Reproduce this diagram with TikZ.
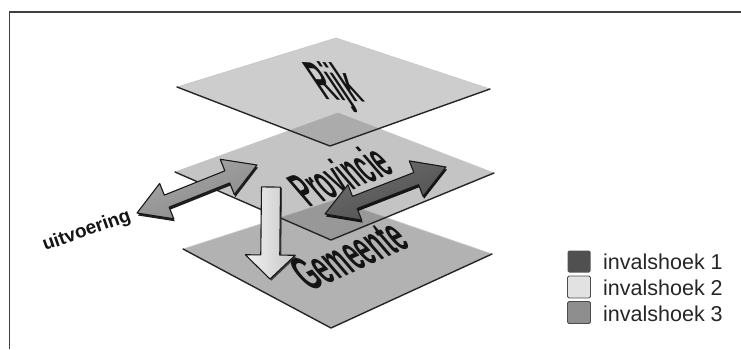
\documentclass[tikz,border=0pt]{standalone}
\usepackage{fontspec}
\setmainfont{Liberation Sans}
\usetikzlibrary{calc}

\definecolor{framegray}{HTML}{404040}
\definecolor{gemfill}{HTML}{B2B2B2}
\definecolor{provtint}{HTML}{787878}
\definecolor{rijktint}{HTML}{8C8C8C}
\definecolor{midarrow}{HTML}{888888}
\definecolor{midarrowhi}{HTML}{A8A8A8}
\definecolor{darkarrow}{HTML}{4E4E4E}
\definecolor{darkarrowhi}{HTML}{6E6E6E}
\definecolor{lightarrow}{HTML}{F2F2F2}
\definecolor{lightarrowlo}{HTML}{C6C6C6}
\definecolor{keydark}{HTML}{505050}
\definecolor{keylight}{HTML}{E2E2E2}
\definecolor{keymid}{HTML}{8E8E8E}

% double block arrow between two named points:
% #1 start, #2 end, #3 head length, #4 head half width, #5 shaft half width, #6 path options
\newcommand\DblBlockArrow[6]{%
  \path[#6] (#1)
    -- ($(#1)!#3!(#2)!#4!90:(#2)$)
    -- ($(#1)!#3!(#2)!#5!90:(#2)$)
    -- ($(#2)!#3!(#1)!#5!-90:(#1)$)
    -- ($(#2)!#3!(#1)!#4!-90:(#1)$)
    -- (#2)
    -- ($(#2)!#3!(#1)!#4!90:(#1)$)
    -- ($(#2)!#3!(#1)!#5!90:(#1)$)
    -- ($(#1)!#3!(#2)!#5!-90:(#2)$)
    -- ($(#1)!#3!(#2)!#4!-90:(#2)$)
    -- cycle;}

% single block arrow from a flat end #1 to a tip #2
\newcommand\OneBlockArrow[6]{%
  \path[#6] ($(#1)!#5!90:(#2)$)
    -- ($(#2)!#3!(#1)!#5!-90:(#1)$)
    -- ($(#2)!#3!(#1)!#4!-90:(#1)$)
    -- (#2)
    -- ($(#2)!#3!(#1)!#4!90:(#1)$)
    -- ($(#2)!#3!(#1)!#5!90:(#1)$)
    -- ($(#1)!#5!-90:(#2)$)
    -- cycle;}

\tikzset{
  frameline/.style={draw=framegray, line width=1.5pt},
  platefront/.style={draw=black!85, line width=1.4pt, line join=round, line cap=round},
  plateback/.style={draw=black!22, line width=0.7pt, line join=round},
  platelabel/.style={inner sep=0pt, text=black!92,
    font=\bfseries\fontsize{52}{52}\selectfont},
  arrowrim/.style={draw=black!90, line width=1.1pt, line join=round},
  keybox/.style={minimum width=23pt, minimum height=22pt, inner sep=0pt,
    rounded corners=1.5pt},
  keytext/.style={anchor=base west, inner sep=0pt, text=black!85,
    font=\fontsize{21.5}{24}\selectfont},
}

\begin{document}
\begin{tikzpicture}[x=1pt, y=-1pt]
\path[use as bounding box] (0,0) rectangle (741,349);

% frame
\coordinate (fl) at (9.5,349);
\coordinate (fc) at (9.5,12);
\coordinate (fr) at (741,12);
\draw[frameline] (fl) -- (fc) -- (fr);

% corner points of the three layers
\coordinate (gL) at (183,249); \coordinate (gT) at (335,200);
\coordinate (gR) at (492,254); \coordinate (gB) at (331,328);
\coordinate (pL) at (175,172); \coordinate (pT) at (338,113);
\coordinate (pR) at (494,173); \coordinate (pB) at (331,240);
\coordinate (rL) at (177,87);  \coordinate (rT) at (336,38);
\coordinate (rR) at (490,89);  \coordinate (rB) at (330,146);

% Gemeente layer
\fill[gemfill] (gL) -- (gT) -- (gR) -- (gB) -- cycle;
\draw[plateback] (gL) -- (gT) -- (gR);
\draw[platefront] (gL) -- (gB) -- (gR);

% Provincie layer
\fill[provtint, fill opacity=0.44] (pL) -- (pT) -- (pR) -- (pB) -- cycle;
\draw[plateback] (pL) -- (pT) -- (pR);
\draw[platefront] (pL) -- (pB) -- (pR);

% Rijk layer
\fill[rijktint, fill opacity=0.43] (rL) -- (rT) -- (rR) -- (rB) -- cycle;
\draw[plateback] (rL) -- (rT) -- (rR);
\draw[platefront] (rL) -- (rB) -- (rR);

% layer names
\node[platelabel, rotate=-3, xslant=-0.75, xscale=0.42] (trijk) at (336,87) {Rijk};
\node[platelabel, rotate=22, xslant=-0.34, xscale=0.40] (tprov) at (340,175) {Provincie};

% arrow end points
\coordinate (ua) at (137,213);   \coordinate (ub) at (257,165);
\coordinate (uas) at (138,215.5); \coordinate (ubs) at (258,167.5);
\coordinate (da) at (325,214);   \coordinate (db) at (446,167);
\coordinate (das) at (326,216.5); \coordinate (dbs) at (447,169.5);
\coordinate (wt) at (271,187);   \coordinate (wp) at (270,279);
\coordinate (wts) at (272.5,188); \coordinate (wps) at (271.5,280.5);

% uitvoering arrow
\DblBlockArrow{uas}{ubs}{32pt}{19pt}{6.5pt}{fill=black!88}
\DblBlockArrow{ua}{ub}{32pt}{19pt}{6.5pt}{arrowrim, top color=midarrowhi, bottom color=midarrow, shading angle=22}

% downward arrow
\OneBlockArrow{wts}{wps}{24pt}{25pt}{9.5pt}{fill=black!75}
\OneBlockArrow{wt}{wp}{24pt}{25pt}{9.5pt}{arrowrim, left color=lightarrow, right color=lightarrowlo}

% arrow across the Provincie layer
\DblBlockArrow{das}{dbs}{32pt}{19pt}{6.5pt}{fill=black!92}
\DblBlockArrow{da}{db}{32pt}{19pt}{6.5pt}{arrowrim, top color=darkarrowhi, bottom color=darkarrow, shading angle=22}

\node[platelabel, rotate=24, xslant=-0.3, xscale=0.44] (tgem) at (349,255) {Gemeente};

\node[anchor=base west, inner sep=0pt, rotate=19.5, text=black!92,
      font=\bfseries\fontsize{19}{19}\selectfont] (uitv) at (45,251) {uitvoering};

% key
\node[keybox, fill=keydark] (k1) at (579,261.5) {};
\node[keybox, fill=keylight, draw=black!70, line width=0.8pt] (k2) at (579,287) {};
\node[keybox, fill=keymid, draw=black!70, line width=0.8pt] (k3) at (579,312.5) {};
\node[keytext] (t1) at (603,269) {invalshoek 1};
\node[keytext] (t2) at (603,295) {invalshoek 2};
\node[keytext] (t3) at (603,321) {invalshoek 3};
\end{tikzpicture}
\end{document}
